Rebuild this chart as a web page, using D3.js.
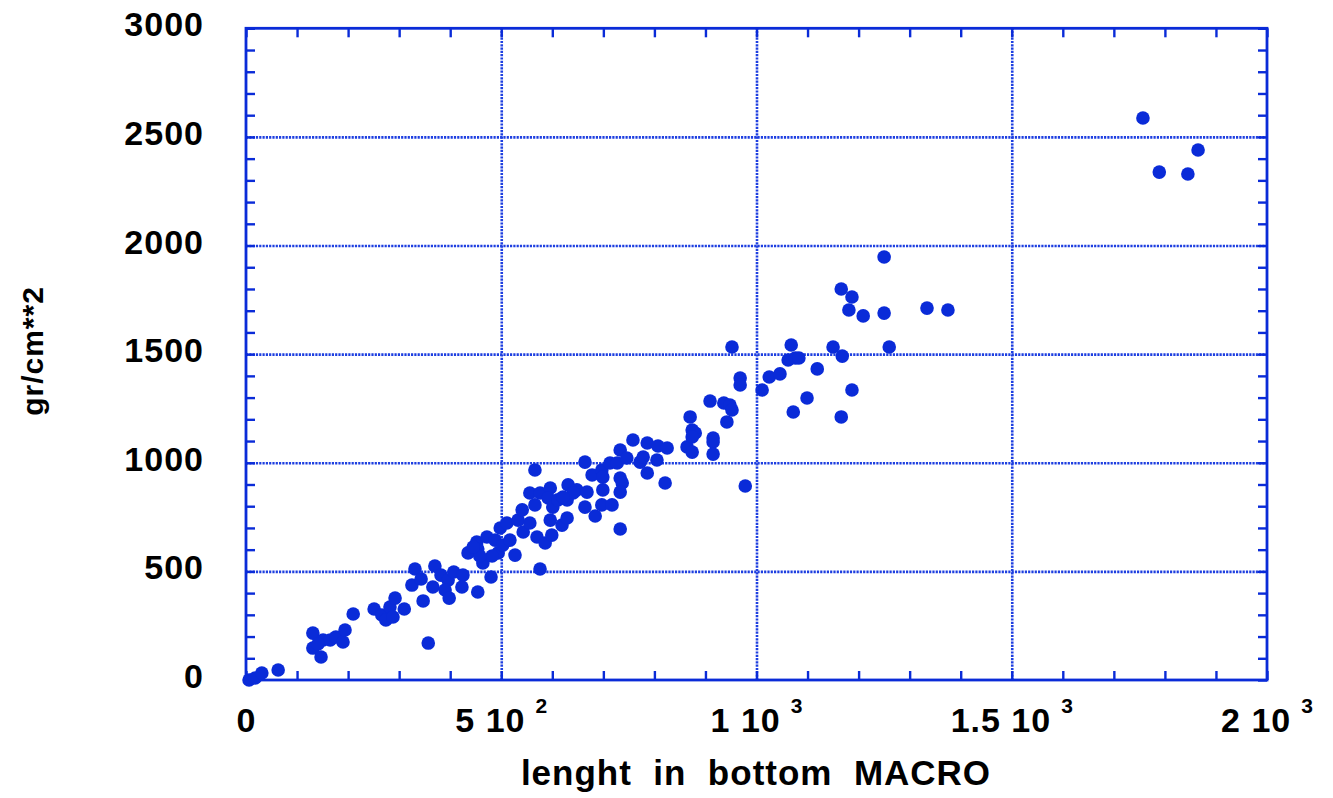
<!DOCTYPE html>
<html>
<head>
<meta charset="utf-8">
<script src="https://cdn.jsdelivr.net/npm/d3@7"></script>
<style>
  html, body { margin: 0; padding: 0; background: #fff; }
  svg { display: block; }
  text { font-family: "Liberation Sans", Arial, Helvetica, sans-serif; font-weight: bold; fill: #000; white-space: pre; }
</style>
</head>
<body>
<svg id="chart" width="1333" height="798"></svg>
<script>
// Measured lengths (x) and column densities (y) of the sample
const lengths = [
  6, 18, 31, 63,
  131, 131, 147, 151, 165, 141, 176, 190, 194, 210,
  251, 266, 274, 282, 292, 288, 310, 357,
  325, 331, 343, 347, 370, 366, 382, 396, 390, 398, 407, 425, 423, 454, 480,
  435, 452, 464, 454, 472, 488, 494, 482, 498, 511, 503, 517, 527, 533, 541, 543, 556, 576, 566,
  556, 566, 576, 596, 592, 601, 611, 570, 586, 599, 596, 619, 629, 631, 629, 648, 641, 621, 668,
  664, 684, 697, 717, 699, 664, 678, 697, 699, 713, 727, 733, 746, 733, 737, 733, 733, 758, 786,
  807, 825, 772, 786, 805, 778, 821, 458, 445,
  864, 874, 870, 874, 880, 874, 915, 915, 915, 909, 936, 948, 952, 942, 952, 968, 968, 978,
  1011, 1025, 1046, 1062, 1076, 1083, 1068, 1072, 1099, 1119, 1150, 1168, 1187, 1166, 1260,
  1250, 1166, 1187, 1181, 1209, 1250, 1334, 1375,
  1757, 1865, 1789, 1845
];
const densities = [
  0, 9, 32, 46,
  216, 147, 106, 184, 184, 166, 198, 175, 230, 304,
  327, 299, 276, 336, 377, 290, 327, 170,
  437, 511, 465, 364, 525, 428, 483, 460, 414, 377, 497, 483, 428, 405, 474,
  585, 635, 539, 603, 658, 644, 585, 571, 700, 723, 621, 644, 575, 736, 783, 681, 723, 511, 967,
  861, 806, 861, 884, 838, 796, 829, 658, 631, 667, 736, 713, 746, 898, 829, 875, 861, 842, 865,
  796, 755, 806, 806, 875, 1003, 944, 967, 934, 999, 999, 1059, 1022, 930, 907, 865, 695, 1105, 1091,
  1077, 1068, 1003, 953, 1013, 1026, 907, 571, 612,
  1073, 1049, 1211, 1151, 1137, 1119, 1114, 1096, 1040, 1284, 1275, 1266, 1243, 1188, 1533, 1390, 1358, 893,
  1335, 1395, 1409, 1473, 1482, 1482, 1542, 1234, 1298, 1432, 1533, 1491, 1335, 1211, 1533,
  1947, 1800, 1763, 1703, 1676, 1689, 1712, 1703,
  2587, 2440, 2338, 2329
];

// Axis ticks and labels
const xDomain = [0, 2000];
const yDomain = [0, 3000];
const xMajorTicks = [0, 500, 1000, 1500, 2000];
const xTickMantissas = ["0", "5 10", "1 10", "1.5 10", "2 10"];
const xTickExponents = ["", "2", "3", "3", "3"];
const yMajorTicks = [0, 500, 1000, 1500, 2000, 2500, 3000];
const yTickLabels = ["0", "500", "1000", "1500", "2000", "2500", "3000"];
const minorStep = 100;
const xLabel = "lenght  in  bottom  MACRO";
const yLabel = "gr/cm**2";

const blue = "#0a2bd8";
const gridBlue = "#1e3fe0";

const plotLeft = 246, plotRight = 1267, plotTop = 28.3, plotBottom = 680;
const svg = d3.select("#chart");
svg.append("rect").attr("width", 1333).attr("height", 798).attr("fill", "#fff");

const x = d3.scaleLinear().domain(xDomain).range([plotLeft, plotRight]);
const y = d3.scaleLinear().domain(yDomain).range([plotBottom, plotTop]);
const H = plotBottom - plotTop, W = plotRight - plotLeft;

// dotted grid lines at the inner major ticks
const gx = svg.append("g").attr("transform", `translate(0,${plotBottom})`)
  .call(d3.axisBottom(x).tickValues(xMajorTicks.slice(1, -1)).tickSize(-H).tickFormat(""));
const gy = svg.append("g").attr("transform", `translate(${plotLeft},0)`)
  .call(d3.axisLeft(y).tickValues(yMajorTicks.slice(1, -1)).tickSize(-W).tickFormat(""));
[gx, gy].forEach(g => {
  g.select(".domain").remove();
  g.selectAll("line").attr("stroke", gridBlue).attr("stroke-width", 2.6)
    .attr("stroke-dasharray", "2.2,1.1");
});

// minor ticks on all four sides
const xMinor = d3.range(xDomain[0], xDomain[1] + 1, minorStep);
const yMinor = d3.range(yDomain[0], yDomain[1] + 1, minorStep);
const tickLen = 9;
const sides = [
  svg.append("g").attr("transform", `translate(0,${plotBottom})`).call(d3.axisBottom(x).tickValues(xMinor).tickSize(-tickLen).tickFormat("")),
  svg.append("g").attr("transform", `translate(0,${plotTop})`).call(d3.axisTop(x).tickValues(xMinor).tickSize(-tickLen).tickFormat("")),
  svg.append("g").attr("transform", `translate(${plotLeft},0)`).call(d3.axisLeft(y).tickValues(yMinor).tickSize(-tickLen).tickFormat("")),
  svg.append("g").attr("transform", `translate(${plotRight},0)`).call(d3.axisRight(y).tickValues(yMinor).tickSize(-tickLen).tickFormat(""))
];
sides.forEach(g => {
  g.select(".domain").remove();
  g.selectAll("line").attr("stroke", blue).attr("stroke-width", 2.4);
});

// frame
svg.append("rect").attr("x", plotLeft).attr("y", plotTop).attr("width", W).attr("height", H)
  .attr("fill", "none").attr("stroke", blue).attr("stroke-width", 2.8);

// x tick labels with powers of ten
const xl = svg.append("g").attr("transform", `translate(0,${plotBottom})`)
  .call(d3.axisBottom(x).tickValues(xMajorTicks).tickSize(0).tickFormat((d, i) => xTickMantissas[i]));
xl.select(".domain").remove();
xl.attr("font-family", null).attr("font-size", null);
xl.selectAll("text")
  .attr("y", 52).attr("dy", 0)
  .style("font-size", "34px").style("letter-spacing", "1px")
  .attr("fill", "#000")
  .each(function(d, i) {
    if (xTickExponents[i]) {
      d3.select(this).append("tspan").attr("dx", 10).attr("dy", -19)
        .style("font-size", "21px").text(xTickExponents[i]);
    }
  });

// y tick labels
const yl = svg.append("g").attr("transform", `translate(${plotLeft},0)`)
  .call(d3.axisLeft(y).tickValues(yMajorTicks).tickSize(0).tickPadding(42).tickFormat((d, i) => yTickLabels[i]));
yl.select(".domain").remove();
yl.attr("font-family", null).attr("font-size", null);
yl.selectAll("text").attr("dy", "0.22em").style("font-size", "34px").style("letter-spacing", "1px").attr("fill", "#000");

// axis titles
svg.append("text").attr("x", 756).attr("y", 785)
  .attr("text-anchor", "middle").style("font-size", "35px").style("letter-spacing", "1px").text(xLabel);
svg.append("text").attr("transform", "translate(43,351) rotate(-90)")
  .attr("text-anchor", "middle").style("font-size", "30px").style("letter-spacing", "1px").text(yLabel);

// data points
svg.append("g").selectAll("circle")
  .data(lengths.map((v, i) => [v, densities[i]]))
  .join("circle")
  .attr("cx", d => x(d[0])).attr("cy", d => y(d[1])).attr("r", 6.8)
  .attr("fill", blue);
</script>
</body>
</html>
